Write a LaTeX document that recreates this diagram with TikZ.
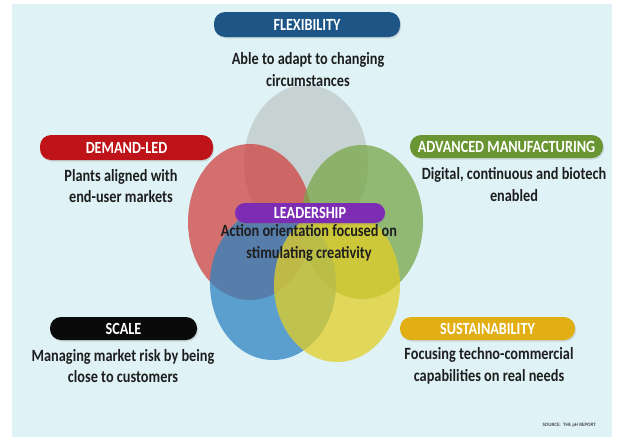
\documentclass[tikz,border=0pt]{standalone}
\usepackage{fontspec}
\usepackage{graphicx}
\setmainfont{Carlito}
\usetikzlibrary{shadows}
\definecolor{bgc}{RGB}{223,243,247}
\definecolor{cgray}{RGB}{192,199,200}
\definecolor{cred}{RGB}{208,68,66}
\definecolor{cgreen}{RGB}{119,166,71}
\definecolor{cblue}{RGB}{46,132,191}
\definecolor{cyel}{RGB}{226,206,38}
\definecolor{pflex}{RGB}{30,85,135}
\definecolor{pdem}{RGB}{190,20,25}
\definecolor{padv}{RGB}{105,150,50}
\definecolor{plead}{RGB}{125,45,180}
\definecolor{pscale}{RGB}{10,10,10}
\definecolor{psus}{RGB}{225,175,20}
\definecolor{txt}{RGB}{30,30,30}
\newcommand{\pl}[1]{\scalebox{1}[1.2]{#1}}
\newcommand{\twol}[2]{\scalebox{1}[1.2]{\begin{tabular}{@{}c@{}}#1\\#2\end{tabular}}}
\tikzset{
  pill/.style={rectangle, rounded corners=11pt, inner sep=0pt, text=white,
     font=\fontsize{14.2}{15}\selectfont\bfseries,
     drop shadow={shadow xshift=1pt, shadow yshift=-1.5pt, opacity=0.25}},
  desc/.style={align=center, text=txt, inner sep=0pt,
     font=\fontsize{14.3}{17.9}\selectfont\bfseries},
  blob/.style={fill opacity=0.75}
}
\begin{document}
\begin{tikzpicture}[x=1pt,y=-1pt]
\useasboundingbox (0,0) rectangle (617,439);
\fill[white] (0,0) rectangle (617,439);
\fill[bgc] (12,4) rectangle (612,437);
% ellipses
\fill[blob,cgray] (306,163) ellipse [x radius=62pt, y radius=78pt];
\fill[blob,cred] (250,222) ellipse [x radius=62pt, y radius=78pt];
\fill[blob,cgreen] (362,222) ellipse [x radius=61pt, y radius=77pt];
\fill[blob,cblue] (273,284) ellipse [x radius=63pt, y radius=76pt];
\fill[blob,cyel] (337,285) ellipse [x radius=63pt, y radius=77pt];
% pills
\node[pill, fill=pflex, minimum width=186pt, minimum height=25pt] (flex) at (307,24.5) {\pl{FLEXIBILITY}};
\node[pill, fill=pdem, minimum width=173pt, minimum height=25pt] (dem) at (126.5,147.5) {\pl{DEMAND-LED}};
\node[pill, fill=padv, minimum width=193pt, minimum height=23pt] (adv) at (506.5,146.5) {\pl{ADVANCED MANUFACTURING}};
\node[pill, fill=plead, minimum width=150pt, minimum height=20pt, rounded corners=10pt] (lead) at (310,213) {\pl{LEADERSHIP}};
\node[pill, fill=pscale, minimum width=147pt, minimum height=23pt] (scale) at (123.5,328.5) {\pl{SCALE}};
\node[pill, fill=psus, minimum width=175pt, minimum height=23pt] (sus) at (487.5,328.5) {\pl{SUSTAINABILITY}};
% descriptions
\node[desc] (dflex) at (308,71) {\twol{Able to adapt to changing}{circumstances}};
\node[desc] (ddem) at (121,187.5) {\twol{Plants aligned with}{end-user markets}};
\node[desc] (dadv) at (514,186) {\twol{Digital, continuous and biotech}{enabled}};
\node[desc] (dlead) at (309,243) {\twol{Action orientation focused on}{stimulating creativity}};
\node[desc] (dscale) at (123,367.5) {\twol{Managing market risk by being}{close to customers}};
\node[desc] (dsus) at (489,366) {\twol{Focusing techno-commercial}{capabilities on real needs}};
\node[anchor=east, inner sep=0pt, text=txt!80, font=\fontsize{5}{6}\selectfont\bfseries] (src) at (596,425) {SOURCE:\ \ THE pH REPORT};
\end{tikzpicture}
\end{document}
